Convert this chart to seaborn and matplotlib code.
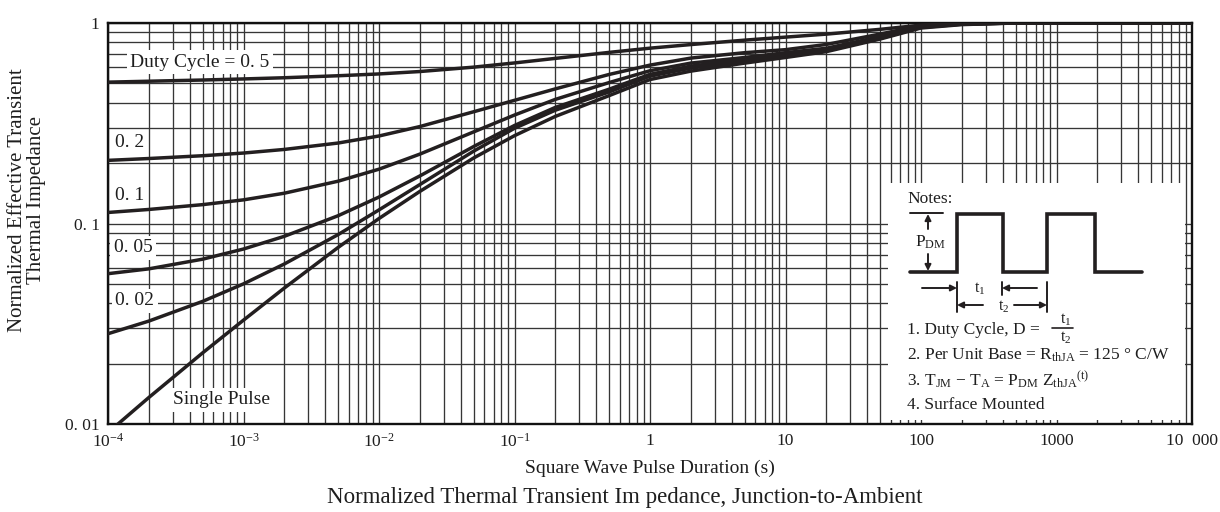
import matplotlib
matplotlib.use("Agg")
import matplotlib.pyplot as plt
import numpy as np
import pandas as pd
import seaborn as sns
from matplotlib.ticker import FixedLocator, FixedFormatter, NullFormatter

# ---------------- data ----------------
pulse_duration = [1e-4, 2e-4, 5e-4, 1e-3, 2e-3, 5e-3, 1e-2, 2e-2, 5e-2, 0.1, 0.2, 0.5,
                  1, 2, 5, 10, 20, 50, 100, 200, 500, 1000, 2000, 5000, 10000]
z_d050 = [0.507, 0.5124, 0.5195, 0.5260, 0.5333, 0.5457, 0.5571, 0.5727, 0.6024, 0.6321, 0.6660, 0.7137,
          0.7490, 0.7806, 0.8213, 0.8503, 0.8800, 0.9299, 0.9761, 0.9931, 1.0, 1.0, 1.0, 1.0, 1.0]
z_d020 = [0.2065, 0.2109, 0.2178, 0.2246, 0.2341, 0.2520, 0.2732, 0.3044, 0.3609, 0.4115, 0.4692, 0.5540,
          0.6166, 0.6683, 0.7112, 0.7362, 0.7816, 0.8810, 0.9705, 0.9931, 1.0, 1.0, 1.0, 1.0, 1.0]
z_d010 = [0.1135, 0.1175, 0.1242, 0.1312, 0.1416, 0.1626, 0.1866, 0.2218, 0.2864, 0.3475, 0.4159, 0.5047,
          0.5781, 0.6310, 0.6730, 0.7112, 0.7482, 0.8551, 0.9594, 0.9908, 1.0, 1.0, 1.0, 1.0, 1.0]
z_d005 = [0.0562, 0.0594, 0.0664, 0.0746, 0.0863, 0.1094, 0.1355, 0.1726, 0.2421, 0.3083, 0.3793, 0.4677,
          0.5546, 0.6095, 0.6577, 0.6998, 0.7379, 0.8472, 0.9550, 0.9886, 1.0, 1.0, 1.0, 1.0, 1.0]
z_d002 = [0.0282, 0.0326, 0.0409, 0.0500, 0.0628, 0.0881, 0.1169, 0.1563, 0.2296, 0.2985, 0.3673, 0.4532,
          0.5433, 0.5957, 0.6457, 0.6887, 0.7278, 0.8395, 0.9506, 0.9863, 1.0, 1.0, 1.0, 1.0, 1.0]
z_single = [0.00906, 0.01355, 0.02265, 0.03296, 0.04764, 0.07603, 0.1059, 0.1445, 0.2123, 0.2742, 0.3420, 0.4345,
            0.5224, 0.5754, 0.6310, 0.6730, 0.7194, 0.8318, 0.9441, 0.9817, 1.0, 1.0, 1.0, 1.0, 1.0]

series_names = ["0.5", "0.2", "0.1", "0.05", "0.02", "Single Pulse"]
series_values = [z_d050, z_d020, z_d010, z_d005, z_d002, z_single]

x_major = [1e-4, 1e-3, 1e-2, 1e-1, 1, 10, 100, 1000, 10000]
x_tick_labels = [r"$\mathregular{10^{-4}}$", r"$\mathregular{10^{-3}}$", r"$\mathregular{10^{-2}}$",
                 r"$\mathregular{10^{-1}}$", "1", "10", "100", "1000", "10  000"]
y_major = [0.01, 0.1, 1]
y_tick_labels = ["0. 01", "0. 1", "1"]

curve_labels = ["Duty Cycle = 0. 5", "0. 2", "0. 1", "0. 05", "0. 02", "Single Pulse"]

# schematic of the notes box (inset-local units)
pulse_x = [22, 69, 69, 115, 115, 159, 159, 207, 207, 254]
pulse_y = [89, 89, 31, 31, 89, 89, 31, 31, 89, 89]

# ---------------- style ----------------
sns.set_theme(style="white")
plt.rcParams["font.family"] = ["Liberation Serif", "DejaVu Serif"]
plt.rcParams["mathtext.fontset"] = "custom"
plt.rcParams["mathtext.rm"] = "Liberation Serif"
plt.rcParams["mathtext.it"] = "Liberation Serif:italic"
plt.rcParams["mathtext.bf"] = "Liberation Serif:bold"
plt.rcParams["axes.unicode_minus"] = True

TXT = "#1e1e1e"
LINE = "#231f20"

df = pd.concat(
    [pd.DataFrame({"Pulse": pulse_duration, "Z": vals, "Duty": name})
     for name, vals in zip(series_names, series_values)],
    ignore_index=True,
)

fig = plt.figure(figsize=(12.2, 5.12), dpi=100)
ax = fig.add_axes([108 / 1220, 1 - 424 / 512, 1084 / 1220, 401 / 512])
ax.set_xscale("log")
ax.set_yscale("log")

sns.lineplot(data=df, x="Pulse", y="Z", hue="Duty", hue_order=series_names,
             palette={n: LINE for n in series_names}, linewidth=2.5,
             legend=False, ax=ax, zorder=3)

ax.set_xlim(1e-4, 1e4)
ax.set_ylim(0.01, 1)
ax.set_xlabel("")
ax.set_ylabel("")

ax.xaxis.set_major_locator(FixedLocator(x_major))
ax.xaxis.set_major_formatter(FixedFormatter(x_tick_labels))
x_minor = [m * 10.0 ** e for e in range(-4, 4) for m in range(2, 10)]
ax.xaxis.set_minor_locator(FixedLocator(x_minor))
ax.xaxis.set_minor_formatter(NullFormatter())
ax.yaxis.set_major_locator(FixedLocator(y_major))
ax.yaxis.set_major_formatter(FixedFormatter(y_tick_labels))
y_minor = [m * 10.0 ** e for e in range(-2, 0) for m in range(2, 10)]
ax.yaxis.set_minor_locator(FixedLocator(y_minor))
ax.yaxis.set_minor_formatter(NullFormatter())

ax.grid(True, which="both", color="#363636", linewidth=0.95)
ax.set_axisbelow(True)
ax.tick_params(which="both", length=0, labelsize=12.5, labelcolor=TXT)
ax.tick_params(axis="y", pad=6)
ax.tick_params(axis="x", pad=6.5)
for s in ax.spines.values():
    s.set_color("#111111")
    s.set_linewidth(1.7)

# curve labels with white boxes
label_pos = [(4.78e-4, 0.638), (1.45e-4, 0.254), (1.45e-4, 0.138),
             (1.53e-4, 0.0759), (1.58e-4, 0.0412), (6.9e-4, 0.0132)]
for text, (lx, ly) in zip(curve_labels, label_pos):
    ax.text(lx, ly, text, ha="center", va="center", fontsize=14, color=TXT, zorder=4,
            bbox=dict(facecolor="white", edgecolor="none", pad=2.5))

# axis titles
fig.text(27.5 / 1220, 1 - 200 / 512, "Normalized Effective Transient\nThermal Impedance",
         rotation=90, ha="center", va="center", multialignment="center",
         fontsize=15, linespacing=1.0, color=TXT)
fig.text(650 / 1220, 1 - 468 / 512, "Square Wave Pulse Duration (s)",
         ha="center", va="center", fontsize=14, color=TXT)
fig.text(625 / 1220, 1 - 497 / 512,
         "Normalized Thermal Transient Im pedance, Junction-to-Ambient",
         ha="center", va="center", fontsize=16.5, color=TXT)

# ---------------- notes box ----------------
ins = ax.inset_axes([(888 - 108) / 1084, (424 - 420) / 401, 297 / 1084, 237 / 401])
ins.set_xlim(0, 297)
ins.set_ylim(237, 0)
ins.set_xticks([])
ins.set_yticks([])
for s in ins.spines.values():
    s.set_visible(False)
ins.set_facecolor("white")
ins.set_zorder(6)

NF = 12.5
ins.text(19, 16, "Notes:", ha="left", va="center", fontsize=NF, color=TXT)
ins.plot(pulse_x, pulse_y, color=LINE, linewidth=2.6, solid_joinstyle="miter")
ins.plot([22, 55], [30, 30], color=LINE, linewidth=1.4)
arrow = dict(arrowstyle="-|>", color=LINE, lw=1.4, mutation_scale=9, shrinkA=0, shrinkB=0)
ins.annotate("", xy=(40, 31), xytext=(40, 46), arrowprops=arrow)
ins.annotate("", xy=(40, 88), xytext=(40, 71), arrowprops=arrow)
ins.text(27, 59, r"P$_{\mathrm{DM}}$", ha="left", va="center", fontsize=NF, color=TXT)

for vx, y0, y1 in [(69, 99, 129), (114, 99, 112), (159, 99, 129)]:
    ins.plot([vx, vx], [y0, y1], color=LINE, linewidth=1.4)
ins.annotate("", xy=(69, 105), xytext=(34, 105), arrowprops=arrow)
ins.annotate("", xy=(114, 105), xytext=(149, 105), arrowprops=arrow)
ins.annotate("", xy=(69, 122), xytext=(95, 122), arrowprops=arrow)
ins.annotate("", xy=(159, 122), xytext=(126, 122), arrowprops=arrow)
ins.text(92, 106, r"t$_{1}$", ha="center", va="center", fontsize=NF - 1, color=TXT)
ins.text(116, 124, r"t$_{2}$", ha="center", va="center", fontsize=NF - 1, color=TXT)

ins.text(19, 147, "1. Duty Cycle, D =", ha="left", va="center", fontsize=NF, color=TXT)
ins.text(178, 137, r"t$_{1}$", ha="center", va="center", fontsize=NF - 1, color=TXT)
ins.plot([164, 185], [145, 145], color=LINE, linewidth=1.2)
ins.text(178, 155, r"t$_{2}$", ha="center", va="center", fontsize=NF - 1, color=TXT)
ins.text(19, 172, r"2. Per Unit Base = R$_{\mathrm{thJA}}$ = 125 ° C/W",
         ha="left", va="center", fontsize=NF, color=TXT)
ins.text(19, 197, r"3. T$_{\mathrm{JM}}$ $-$ T$_{\mathrm{A}}$ = P$_{\mathrm{DM}}$ Z$_{\mathrm{thJA}}{}^{\mathrm{(t)}}$",
         ha="left", va="center", fontsize=NF, color=TXT)
ins.text(19, 222, "4. Surface Mounted", ha="left", va="center", fontsize=NF, color=TXT)

fig.savefig("out.png", dpi=100, facecolor="white")
